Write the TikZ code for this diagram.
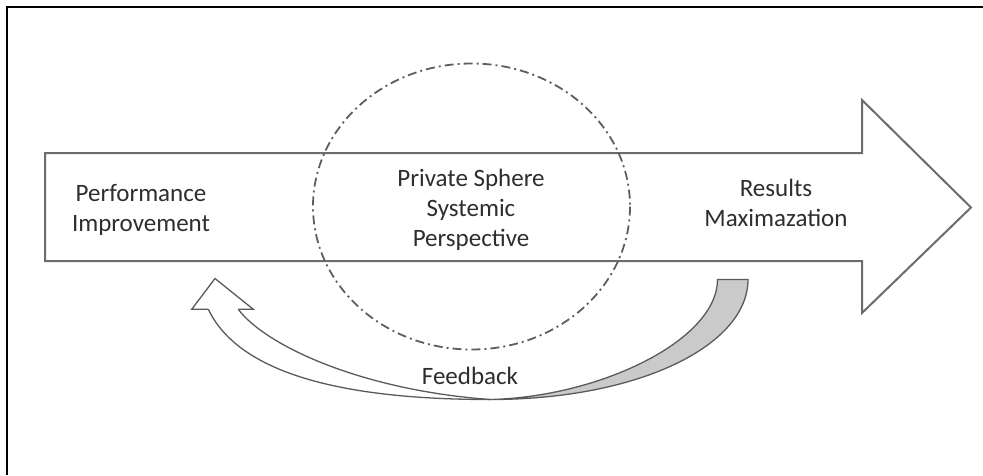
\documentclass[tikz,border=0pt]{standalone}
\usepackage{fontspec}
\setmainfont{Carlito}
\definecolor{arrowgray}{HTML}{6C6C6C}
\definecolor{circgray}{HTML}{5E5E5E}
\definecolor{txtgray}{HTML}{2E2E2E}
\definecolor{bandfill}{HTML}{CACACA}
\definecolor{bandline}{HTML}{5A5A5A}
\begin{document}
\begin{tikzpicture}[x=1pt,y=-1pt,
  arrowline/.style={draw=arrowgray,line width=2pt,line join=miter,fill=white},
  circline/.style={draw=circgray,line width=1.8pt,dash pattern=on 9pt off 4pt on 2pt off 4pt},
  bandstyle/.style={draw=bandline,line width=1.3pt,line join=miter},
  lbl/.style={text=txtgray,font=\fontsize{25pt}{30pt}\selectfont,align=center,inner sep=0pt}]
\useasboundingbox (0,0) rectangle (983,475);
% frame
\draw[black,line width=2.6pt] (7,475) -- (7,7) -- (983,7);
% main arrow
\draw[arrowline] (45,153) -- (862,153) -- (862,100) -- (971,207.5) -- (862,313) -- (862,261) -- (45,261) -- cycle;
% dash-dot circle
\draw[circline] (471.5,206.5) ellipse [x radius=158.5, y radius=143];
% curved feedback arrow
\coordinate (tip) at (215,278.5);
\coordinate (lb) at (191.7,309.3);
\coordinate (rb) at (253.3,309.3);
\coordinate (lo) at (208.3,309.3);
\coordinate (li) at (238.3,309.3);
\coordinate (bot) at (490,399.5);
\coordinate (ro) at (748,279.5);
\coordinate (ri) at (717.5,279.5);
\fill[bandfill] (ro) .. controls (748,345) and (640,399.5) .. (bot) .. controls (600,397) and (717.5,340) .. (ri) -- cycle;
\draw[bandstyle] (lo) -- (lb) -- (tip) -- (rb) -- (li);
\draw[bandstyle] (lo) .. controls (235,365) and (320,399.5) .. (bot);
\draw[bandstyle] (li) .. controls (265,345) and (360,390) .. (bot);
\draw[bandstyle] (bot) .. controls (640,399.5) and (748,345) .. (ro) -- (ri) .. controls (717.5,340) and (600,397) .. (bot);
% labels
\node[lbl] (perf) at (141,210) {Performance\\Improvement};
\node[lbl] (priv) at (471,210) {Private Sphere\\Systemic\\Perspective};
\node[lbl] (res) at (776,203) {Results\\Maximazation};
\node[lbl,anchor=base] (fb) at (470,384) {Feedback};
\end{tikzpicture}
\end{document}
